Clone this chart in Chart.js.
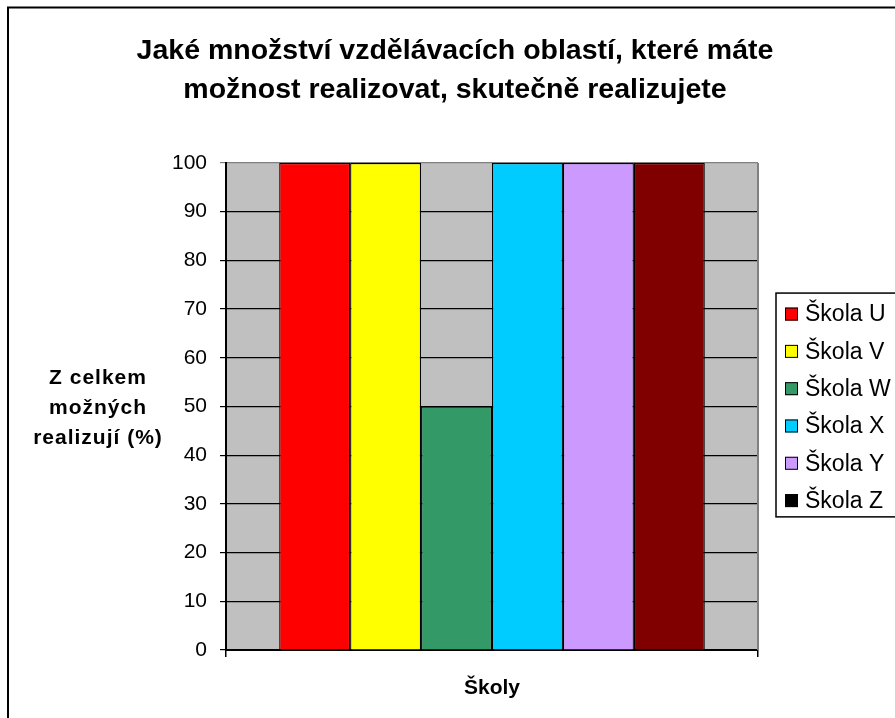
<!DOCTYPE html>
<html>
<head>
<meta charset="utf-8">
<script src="https://cdn.jsdelivr.net/npm/chart.js@4.4.1/dist/chart.umd.min.js"></script>
<style>
    html, body { margin: 0; padding: 0; overflow: hidden; background: #fff; }
    #divForCanvas { position: absolute; left: 0; top: 0; width: 910px; height: 730px; }
</style>
</head>
<body>
<div id="divForCanvas"><canvas id="myChart" width="910" height="730"></canvas></div>
<script>
// adatok
const categories = [''];
const schools = ['Škola U', 'Škola V', 'Škola W', 'Škola X', 'Škola Y', 'Škola Z'];
const values = [100, 100, 50, 100, 100, 100];
const yMin = 0;
const yMax = 100;
const yStep = 10;

const titleLines = ['Jaké množství vzdělávacích oblastí, které máte', 'možnost realizovat, skutečně realizujete'];
const yTitleLines = ['Z celkem', 'možných', 'realizují (%)'];
const xTitle = 'Školy';

const barColors = ['#FF0000', '#FFFF00', '#339966', '#00CCFF', '#CC99FF', '#800000'];
const legendColors = ['#FF0000', '#FFFF00', '#339966', '#00CCFF', '#CC99FF', '#000000'];

const FONT = "'Liberation Sans', Arial, sans-serif";

// hatter, keret, szurke rajzterulet
const backgroundPlugin = {
    id: 'backgroundPlugin',
    beforeDraw(chart) {
        const { ctx, chartArea: a } = chart;
        ctx.save();
        ctx.fillStyle = '#fff';
        ctx.fillRect(0, 0, chart.width, chart.height);
        ctx.fillStyle = '#C0C0C0';
        ctx.fillRect(a.left, a.top, a.right - a.left, a.bottom - a.top);
        ctx.restore();
    },
    afterDraw(chart) {
        const { ctx, chartArea: a } = chart;
        ctx.save();
        // jobb oldali szurke szel
        ctx.strokeStyle = '#808080';
        ctx.lineWidth = 2;
        ctx.beginPath();
        ctx.moveTo(a.right, a.top);
        ctx.lineTo(a.right, a.bottom);
        ctx.stroke();
        // kulso keret
        ctx.strokeStyle = '#000';
        ctx.lineWidth = 2;
        ctx.strokeRect(8, 7.5, chart.width, chart.height);
        ctx.restore();
    }
};

// fekvo, harom soros y tengely cim
const yTitlePlugin = {
    id: 'yTitlePlugin',
    afterDraw(chart) {
        const { ctx, chartArea: a } = chart;
        const mid = (a.top + a.bottom) / 2 + 1.5;
        ctx.save();
        ctx.font = 'bold 21px ' + FONT;
        ctx.letterSpacing = '1px';
        ctx.fillStyle = '#000';
        ctx.textAlign = 'center';
        ctx.textBaseline = 'middle';
        yTitleLines.forEach((line, i) => {
            ctx.fillText(line, 98, mid + (i - 1) * 30);
        });
        ctx.restore();
    }
};

// jelmagyarazat kerettel
const legendPlugin = {
    id: 'legendPlugin',
    afterDraw(chart) {
        const { ctx, chartArea: a } = chart;
        const rowH = 37.3;
        const left = a.right + 18;
        const h = rowH * schools.length;
        const top = (a.top + a.bottom) / 2 - 1.5 - h / 2;
        ctx.save();
        ctx.fillStyle = '#fff';
        ctx.fillRect(left, top, chart.width, h);
        ctx.strokeStyle = '#000';
        ctx.lineWidth = 1.5;
        ctx.strokeRect(left, top, chart.width, h);
        ctx.font = '23px ' + FONT;
        ctx.textBaseline = 'middle';
        schools.forEach((name, i) => {
            const y = top + 21 + i * rowH;
            ctx.fillStyle = legendColors[i];
            ctx.fillRect(left + 9, y - 6.5, 13, 13);
            ctx.lineWidth = 1;
            ctx.strokeStyle = '#000';
            ctx.strokeRect(left + 9.5, y - 6, 12, 12);
            ctx.fillStyle = '#000';
            ctx.fillText(name, left + 29, y + 1);
        });
        ctx.restore();
    }
};

const data = {
    labels: categories,
    datasets: schools.map((name, i) => ({
        label: name,
        data: [values[i]],
        backgroundColor: barColors[i],
        borderColor: '#000',
        borderWidth: 1.2,
        categoryPercentage: 0.8,
        barPercentage: 1.0
    }))
};

const config = {
    type: 'bar',
    data: data,
    options: {
        responsive: false,
        animation: false,
        layout: { padding: { left: 0, right: 0, top: 0, bottom: 20 } },
        plugins: {
            legend: { display: false },
            tooltip: { enabled: false },
            title: {
                display: true,
                text: titleLines,
                color: '#000',
                font: { family: FONT, size: 28.5, weight: 'bold', lineHeight: 1.35 },
                padding: { top: 32, bottom: 54 }
            }
        },
        scales: {
            x: {
                grid: {
                    display: true,
                    offset: true,
                    drawOnChartArea: false,
                    drawTicks: true,
                    tickLength: 7,
                    color: '#000',
                    lineWidth: 1.5
                },
                border: { display: true, color: '#000', width: 2 },
                ticks: { display: true, font: { family: FONT, size: 21 } },
                title: {
                    display: true,
                    text: xTitle,
                    color: '#000',
                    font: { family: FONT, size: 21, weight: 'bold' },
                    padding: { top: 0, bottom: 9 }
                },
                afterFit(scale) { scale.height = 60; }
            },
            y: {
                min: yMin,
                max: yMax,
                ticks: {
                    stepSize: yStep,
                    color: '#000',
                    padding: 13,
                    font: { family: FONT, size: 21 }
                },
                grid: {
                    color: (c) => c.tick && c.tick.value === yMax ? '#808080' : '#000',
                    lineWidth: 1.2,
                    tickLength: 6,
                    drawTicks: true
                },
                border: { display: true, color: '#000', width: 2 },
                afterFit(scale) { scale.width = 226; }
            },
            // csak helyet foglal a jelmagyarazatnak
            yRight: {
                position: 'right',
                display: true,
                grid: { display: false, drawTicks: false },
                border: { display: false },
                ticks: { display: false },
                afterFit(scale) { scale.width = 152; }
            }
        }
    },
    plugins: [backgroundPlugin, yTitlePlugin, legendPlugin]
};

const myChart = new Chart(document.getElementById('myChart'), config);
</script>
</body>
</html>
